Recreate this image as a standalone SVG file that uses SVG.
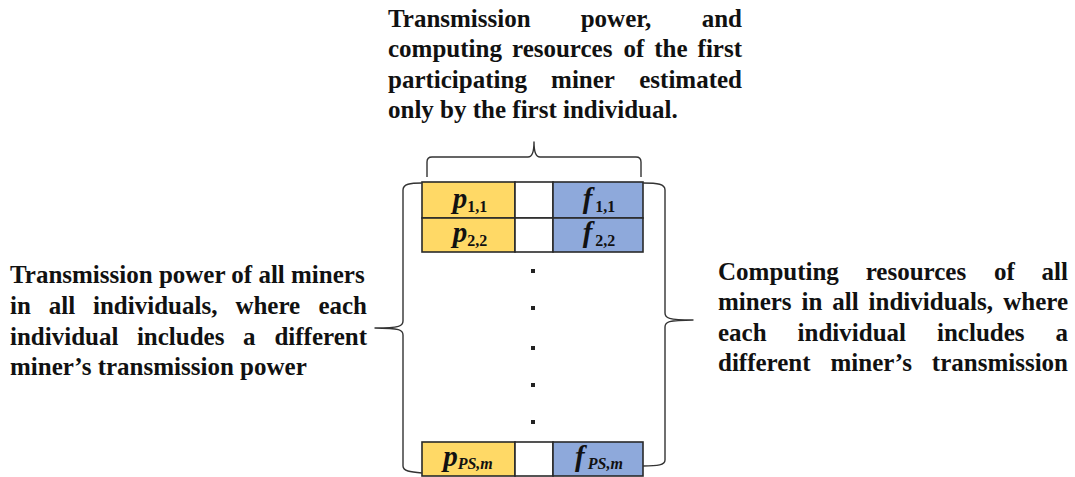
<svg xmlns="http://www.w3.org/2000/svg" width="1075" height="477" viewBox="0 0 1075 477">
  <style>
    .lbl { font-family: "Liberation Serif", "Times New Roman", serif; font-weight: bold; font-size: 25px; fill: #111; }
    .end { text-anchor: end; }
    .brace { fill: none; stroke: #333; stroke-width: 1.4; stroke-linejoin: round; }
    .cell { stroke: #2a2a2a; stroke-width: 1.6; }
    .pc { fill: #FFD966; }
    .fc { fill: #8EA9DB; }
    .wc { fill: #ffffff; }
    .sym { font-family: "Liberation Serif", "Times New Roman", serif; font-weight: bold; fill: #111; text-anchor: middle; }
    .var { font-style: italic; font-size: 29px; }
    .sub { font-size: 16px; }
    .subi { font-size: 16px; font-style: italic; }
    .dot { fill: #222; }
  </style>

  <!-- top caption -->
  <g id="caption-top">
    <text class="lbl" y="27"><tspan x="388">Transmission</tspan><tspan x="580.7">power,</tspan><tspan x="742" class="end">and</tspan></text>
    <text class="lbl" y="57"><tspan x="388">computing</tspan><tspan x="512">resources</tspan><tspan x="623.4">of</tspan><tspan x="654.2">the</tspan><tspan x="742" class="end">first</tspan></text>
    <text class="lbl" y="88"><tspan x="388">participating</tspan><tspan x="551.1">miner</tspan><tspan x="742" class="end">estimated</tspan></text>
    <text class="lbl" x="388" y="118">only by the first individual.</text>
  </g>

  <!-- left caption -->
  <g id="caption-left">
    <text class="lbl" x="10" y="283">Transmission power of all miners</text>
    <text class="lbl" y="314"><tspan x="10">in</tspan><tspan x="48.8">all</tspan><tspan x="93">individuals,</tspan><tspan x="235.4">where</tspan><tspan x="367" class="end">each</tspan></text>
    <text class="lbl" y="345"><tspan x="10">individual</tspan><tspan x="136.9">includes</tspan><tspan x="242.9">a</tspan><tspan x="367" class="end">different</tspan></text>
    <text class="lbl" x="10" y="375">miner’s transmission power</text>
  </g>

  <!-- right caption -->
  <g id="caption-right">
    <text class="lbl" y="280"><tspan x="718">Computing</tspan><tspan x="865.7">resources</tspan><tspan x="993.9">of</tspan><tspan x="1068" class="end">all</tspan></text>
    <text class="lbl" y="310"><tspan x="718">miners</tspan><tspan x="801.5">in</tspan><tspan x="832.3">all</tspan><tspan x="868.6">individuals,</tspan><tspan x="1068" class="end">where</tspan></text>
    <text class="lbl" y="341"><tspan x="718">each</tspan><tspan x="797.6">individual</tspan><tspan x="937">includes</tspan><tspan x="1068" class="end">a</tspan></text>
    <text class="lbl" y="371"><tspan x="718">different</tspan><tspan x="830.5">miner’s</tspan><tspan x="1068" class="end">transmission</tspan></text>
  </g>

  <!-- population matrix -->
  <g id="row-1">
    <rect class="cell pc" x="422" y="182" width="93" height="36"/>
    <rect class="cell wc" x="515" y="182" width="38" height="36"/>
    <rect class="cell fc" x="553" y="182" width="90" height="36"/>
    <text class="sym" x="470" y="208"><tspan class="var">p</tspan><tspan class="sub" dy="4">1,1</tspan></text>
    <text class="sym" x="599" y="208"><tspan class="var">f</tspan><tspan class="sub" dx="3" dy="4">1,1</tspan></text>
  </g>
  <g id="row-2">
    <rect class="cell pc" x="422" y="218" width="93" height="34"/>
    <rect class="cell wc" x="515" y="218" width="38" height="34"/>
    <rect class="cell fc" x="553" y="218" width="90" height="34"/>
    <text class="sym" x="470" y="242"><tspan class="var">p</tspan><tspan class="sub" dy="4">2,2</tspan></text>
    <text class="sym" x="599" y="242"><tspan class="var">f</tspan><tspan class="sub" dx="3" dy="4">2,2</tspan></text>
  </g>
  <g id="row-ellipsis">
    <rect class="dot" x="531" y="269" width="4" height="4"/>
    <rect class="dot" x="531" y="306" width="4" height="4"/>
    <rect class="dot" x="531" y="346" width="4" height="4"/>
    <rect class="dot" x="531" y="383" width="4" height="4"/>
    <rect class="dot" x="531" y="420" width="4" height="4"/>
  </g>
  <g id="row-PS">
    <rect class="cell pc" x="422" y="442" width="93" height="34"/>
    <rect class="cell wc" x="515" y="442" width="38" height="34"/>
    <rect class="cell fc" x="553" y="442" width="90" height="34"/>
    <text class="sym" x="468" y="466"><tspan class="var">p</tspan><tspan class="subi" dy="3">PS,m</tspan></text>
    <text class="sym" x="599" y="466"><tspan class="var">f</tspan><tspan class="subi" dx="3" dy="3">PS,m</tspan></text>
  </g>

  <!-- braces -->
  <g id="braces">
    <path class="brace" d="M427,177 L427,162 Q427,157 432,157 L528,157 Q534,157 534,142 Q534,157 540,157 L636,157 Q641,157 641,162 L641,177"/>
    <path class="brace" d="M422,183 C410,183 403,184 403,190 L403,321 C403,326 400,328 375,328 C400,328 403,330 403,335 L403,466 C403,471 410,472 422,473"/>
    <path class="brace" d="M643,183 C658,183 665,184 665,190 L665,313 C665,318 668,320 693,320 C668,320 665,322 665,327 L665,460 C665,465 658,466 643,466"/>
  </g>
</svg>
